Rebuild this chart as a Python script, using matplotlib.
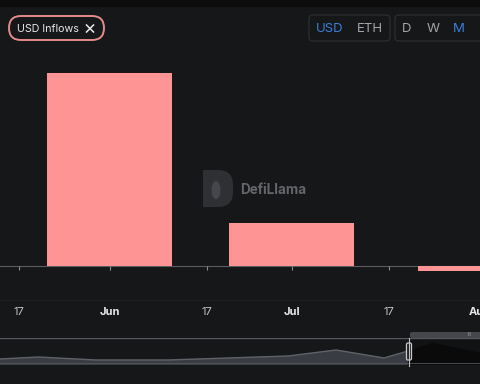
import datetime as dt

import matplotlib

matplotlib.use("Agg")  # headless
import matplotlib.dates as mdates
import matplotlib.pyplot as plt
from matplotlib.patches import Ellipse, FancyBboxPatch, Rectangle

plt.rcParams["font.family"] = ["Inter", "DejaVu Sans"]

BG = "#161719"
BAR = "#ff9494"

# Monthly USD inflows (millions), one bar per month
MONTHS = [dt.date(2024, 6, 1), dt.date(2024, 7, 1), dt.date(2024, 8, 1)]
INFLOWS_M = [3.86, 0.86, -0.10]

TICK_DATES = [dt.date(2024, 5, 17), dt.date(2024, 6, 1), dt.date(2024, 6, 17),
              dt.date(2024, 7, 1), dt.date(2024, 7, 17), dt.date(2024, 8, 1)]
TICK_LABELS = ["17", "Jun", "17", "Jul", "17", "Aug"]

# Navigator overview of the whole history (position in %, relative height)
NAV_POS = [0, 8, 20, 35, 60, 70, 80, 85, 90, 100]
NAV_VALUES = [5, 7, 4, 4, 8, 14, 6, 13, 21, 11]
NAV_SPLIT = 7  # index where the selected window starts


def px_box(left, top, right, bottom, H=384, W=480):
    # figure-fraction rect from pixel edges
    return [left / W, 1 - bottom / H, (right - left) / W, (bottom - top) / H]


def draw_main(fig):
    ax = fig.add_axes(px_box(0, 45, 480, 299))
    ax.set_facecolor("none")
    x = mdates.date2num(MONTHS)
    ax.bar(x, INFLOWS_M, width=20.6, color=BAR, zorder=2)

    jun1 = mdates.date2num(dt.date(2024, 6, 1))
    ax.set_xlim(jun1 - 18.13, jun1 + 60.98)
    ax.set_ylim(-0.66, 4.42)

    for side in ("top", "left", "right"):
        ax.spines[side].set_visible(False)
    ax.spines["bottom"].set_position(("data", 0))
    ax.spines["bottom"].set_color("#5a5c60")
    ax.spines["bottom"].set_zorder(1)
    ax.set_yticks([])
    ax.set_xticks(mdates.date2num(TICK_DATES))
    ax.set_xticklabels(TICK_LABELS)
    ax.tick_params(axis="x", direction="out", length=3, width=0.8,
                   color="#8a8c90", pad=26.5, labelsize=8)
    for lbl in ax.get_xticklabels():
        if lbl.get_text() == "17":
            lbl.set_color("#c4c5c8")
        else:
            lbl.set_color("#e8e8ea")
            lbl.set_fontweight("bold")
    return ax


def draw_navigator(fig):
    nav = fig.add_axes(px_box(0, 338, 480, 364))
    nav.set_facecolor("none")
    nav.set_xlim(0, 100)
    nav.set_ylim(0, 26)
    nav.axis("off")
    s = NAV_SPLIT
    nav.axvspan(NAV_POS[s], 100, color="#111214", zorder=0)
    nav.fill_between(NAV_POS[:s + 1], NAV_VALUES[:s + 1], color="#3a3c43", zorder=1)
    nav.plot(NAV_POS[:s + 1], NAV_VALUES[:s + 1], color="#60626a", lw=1, zorder=2)
    nav.fill_between(NAV_POS[s:], NAV_VALUES[s:], color="#0a0a0b", zorder=1)
    nav.axhline(26, color="#55575c", lw=1)
    nav.axhline(0, color="#55575c", lw=1.2)
    return nav


def draw_overlay(fig):
    ov = fig.add_axes([0, 0, 1, 1], zorder=5)
    ov.set_xlim(0, 480)
    ov.set_ylim(384, 0)
    ov.axis("off")
    ov.patch.set_alpha(0)

    # top strip
    ov.add_patch(Rectangle((0, 0), 480, 6, color="#0c0c0d"))

    # "USD Inflows x" pill
    ov.add_patch(FancyBboxPatch((9, 16), 95, 24,
                                boxstyle="round,pad=0,rounding_size=12",
                                fc="none", ec="#e58a8a", lw=1.4))
    ov.text(17, 28.5, "USD Inflows", color="#e8e8ea", fontsize=7.7,
            va="center", ha="left")
    ov.plot([86.5, 93.5], [25, 32], color="#e8e8ea", lw=1.1)
    ov.plot([86.5, 93.5], [32, 25], color="#e8e8ea", lw=1.1)

    # USD / ETH toggle
    ov.add_patch(FancyBboxPatch((309, 15), 81, 26,
                                boxstyle="round,pad=0,rounding_size=4",
                                fc="none", ec="#2a2c30", lw=1))
    ov.text(330, 28.5, "USD", color="#3a7fd8", fontsize=9.5, ha="center", va="center")
    ov.text(370, 28.5, "ETH", color="#a3a4a8", fontsize=9.5, ha="center", va="center")

    # D / W / M toggle
    ov.add_patch(FancyBboxPatch((395, 15), 100, 26,
                                boxstyle="round,pad=0,rounding_size=4",
                                fc="none", ec="#2a2c30", lw=1))
    for lbl, xc, col in [("D", 407, "#a3a4a8"), ("W", 433, "#a3a4a8"),
                         ("M", 459, "#3a7fd8")]:
        ov.text(xc, 28.5, lbl, color=col, fontsize=9.5, ha="center", va="center")

    # faint bottom line of the plot area
    ov.plot([0, 480], [299.5, 299.5], color="#1d1e21", lw=0.8)

    # watermark: D-shaped logo + name
    ov.add_patch(FancyBboxPatch((203, 170), 30, 37,
                                boxstyle="round,pad=0,rounding_size=15",
                                fc="#2f3034", ec="none"))
    ov.add_patch(Rectangle((203, 170), 14, 37, fc="#2f3034", ec="none"))
    ov.add_patch(Ellipse((216, 190), 9, 18, fc="#46474c", ec="none"))
    ov.text(240, 189.5, "DefiLlama", color="#65666b", fontsize=9.7,
            fontweight="bold", ha="left", va="center")

    # navigator handle + tab
    ov.add_patch(FancyBboxPatch((410, 332), 75, 6,
                                boxstyle="round,pad=0,rounding_size=2",
                                fc="#45474c", ec="none"))
    ov.text(469, 335, "III", color="#b0b0b0", fontsize=3.5, ha="center", va="center")
    ov.plot([409, 409], [338, 366], color="#bfc0c3", lw=0.8)
    ov.add_patch(FancyBboxPatch((406.5, 343), 5, 17,
                                boxstyle="round,pad=0,rounding_size=1.5",
                                fc="#1b1c1e", ec="#c8c9cc", lw=0.9))
    return ov


def main():
    fig = plt.figure(figsize=(4.8, 3.84), dpi=100, facecolor=BG)
    draw_main(fig)
    draw_navigator(fig)
    draw_overlay(fig)
    fig.savefig("out.png", dpi=100, facecolor=BG)


if __name__ == "__main__":
    main()
